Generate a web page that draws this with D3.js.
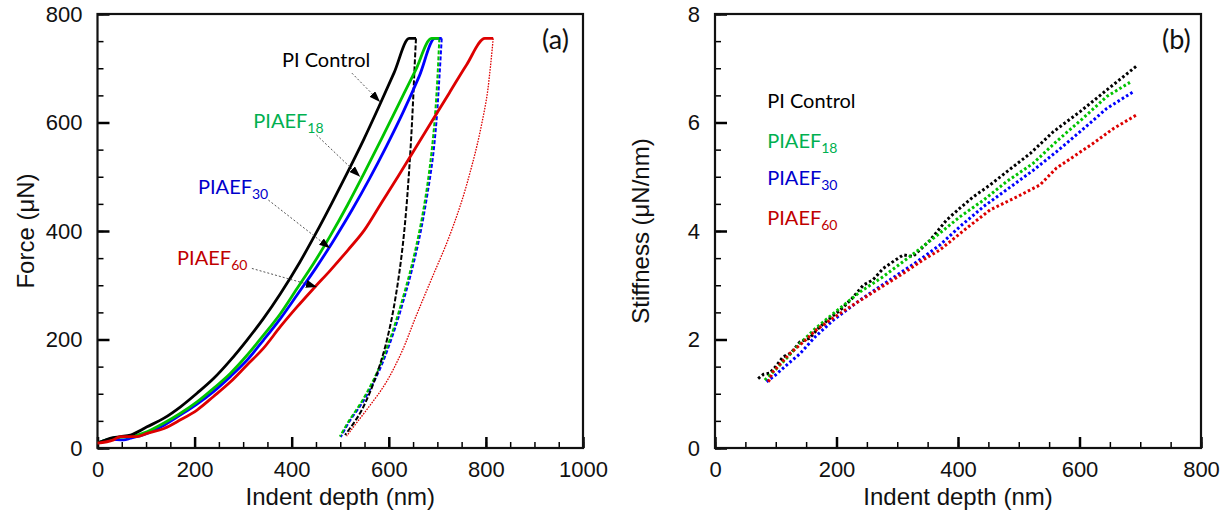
<!DOCTYPE html>
<html>
<head>
<meta charset="utf-8">
<title>Force and stiffness vs indent depth</title>
<style>
  body { margin: 0; background: #fff; }
  .tick text { font-family: "Liberation Sans", Arial, sans-serif; font-size: 22px; fill: #111; }
  .axis-title { font-family: "Liberation Sans", Arial, sans-serif; font-size: 24px; fill: #111; }
  .note { font-family: Lato, "Open Sans", sans-serif; font-size: 20px; }
  .tag { font-family: Lato, "Open Sans", sans-serif; font-size: 27px; fill: #111; }
</style>
</head>
<body>
<svg id="chart" width="1229" height="518"></svg>
<script src="https://cdn.jsdelivr.net/npm/d3@7"></script>
<script>

// ---- panel (a): depth (nm), force (uN) ----
var loadControl = [[0,9],[15,14],[26,18],[47,21],[68,24],[102,39],[137,55],[171,76],[205,101],[239,128],[274,162],[308,199],[342,239],[377,285],[417,343],[450,396],[483,452],[516,510],[549,570],[580,630],[611,692],[642,755],[656,755]];
var unloadControl = [[656,755],[653,700],[650,640],[646,570],[641,500],[635,430],[627,360],[617,295],[604,230],[589,175],[572,128],[554,88],[540,63],[527,45],[510,24]];

var load18 = [[0,9],[26,17],[47,20],[68,21],[102,30],[137,46],[171,64],[205,85],[239,110],[274,138],[308,171],[342,208],[377,248],[411,294],[445,340],[480,392],[515,448],[550,508],[585,570],[620,633],[655,696],[688,755],[704,755]];
var unload18 = [[704,755],[700,680],[694,600],[686,530],[676,465],[663,400],[648,340],[630,280],[604,205],[576,140],[543,84],[515,46],[499,21]];

var load30 = [[0,9],[26,16],[54,15],[68,18],[102,27],[137,42],[171,61],[205,81],[239,104],[274,132],[308,162],[342,199],[377,239],[411,282],[450,332],[488,385],[525,440],[560,496],[595,556],[630,620],[663,686],[695,755],[709,755]];
var unload30 = [[709,755],[704,680],[698,600],[690,530],[679,465],[666,400],[651,340],[633,280],[607,205],[579,140],[546,84],[517,46],[501,20]];

var load60 = [[0,9],[33,15],[47,21],[81,21],[102,27],[137,36],[171,52],[205,70],[239,95],[274,122],[308,153],[342,184],[377,224],[411,260],[445,294],[480,328],[515,364],[550,402],[585,452],[620,502],[655,553],[690,604],[725,655],[760,706],[798,755],[815,755]];
var unload60 = [[815,755],[809,700],[802,648],[792,600],[781,555],[768,510],[753,463],[737,420],[719,377],[692,320],[657,245],[623,170],[589,113],[554,70],[530,42],[513,22]];

// ---- panel (b): depth (nm), stiffness (uN/nm) ----
var stiffControl = [[71,1.28],[80,1.36],[90,1.38],[100,1.5],[112,1.68],[125,1.75],[140,1.96],[155,2.02],[173,2.24],[190,2.4],[206,2.54],[225,2.75],[244,3.0],[260,3.1],[277,3.31],[295,3.45],[310,3.56],[326,3.53],[340,3.68],[354,3.83],[370,4.05],[381,4.2],[403,4.42],[425,4.63],[453,4.85],[480,5.09],[519,5.43],[557,5.83],[601,6.2],[645,6.6],[696,7.06]];
var stiff18 = [[82,1.25],[100,1.45],[120,1.68],[140,1.93],[165,2.2],[195,2.48],[239,2.88],[277,3.16],[321,3.53],[370,3.96],[403,4.26],[442,4.57],[480,4.91],[524,5.25],[562,5.65],[606,6.08],[645,6.48],[683,6.74]];
var stiff30 = [[85,1.22],[100,1.35],[120,1.55],[140,1.74],[165,2.05],[195,2.36],[239,2.73],[288,3.1],[332,3.43],[370,3.74],[403,4.08],[442,4.45],[480,4.76],[524,5.12],[562,5.46],[601,5.83],[645,6.26],[689,6.57]];
var stiff60 = [[88,1.22],[95,1.4],[110,1.58],[123,1.74],[145,1.95],[167,2.18],[195,2.4],[222,2.6],[266,2.91],[310,3.22],[343,3.47],[370,3.65],[414,4.05],[453,4.39],[497,4.63],[535,4.85],[562,5.16],[590,5.37],[623,5.62],[656,5.89],[694,6.14]];

var seriesNames = ["PI Control", "PIAEF", "PIAEF", "PIAEF"];
var seriesSubs = ["", "18", "30", "60"];

var lineColors = ["#000000", "#00c400", "#0000ff", "#dd0000"];
var textColors = ["#000000", "#00b050", "#0000cc", "#c00000"];

var svg = d3.select("#chart");

var xA = d3.scaleLinear().domain([0, 1000]).range([97.5, 583]);
var yA = d3.scaleLinear().domain([0, 800]).range([448, 14]);
var xB = d3.scaleLinear().domain([0, 800]).range([715, 1201]);
var yB = d3.scaleLinear().domain([0, 8]).range([448, 14]);

function drawAxes(x, y, xStep, yStep, xTitle, yTitle, titleX) {
  var bottom = y.range()[0], top = y.range()[1];
  var left = x.range()[0], right = x.range()[1];
  var xd = x.domain(), yd = y.domain();

  // minor ticks
  svg.append("g").attr("transform", "translate(0," + bottom + ")")
    .call(d3.axisBottom(x).tickValues(d3.range(xd[0], xd[1] + 1e-6, xStep / 4)).tickSize(-6).tickFormat(""))
    .call(function(g) { g.select(".domain").remove(); g.selectAll("line").attr("stroke-width", 1.5); });
  svg.append("g").attr("transform", "translate(" + left + ",0)")
    .call(d3.axisLeft(y).tickValues(d3.range(yd[0], yd[1] + 1e-6, yStep / 4)).tickSize(-6).tickFormat(""))
    .call(function(g) { g.select(".domain").remove(); g.selectAll("line").attr("stroke-width", 1.5); });

  // major ticks + labels
  svg.append("g").attr("transform", "translate(0," + bottom + ")")
    .call(d3.axisBottom(x).tickValues(d3.range(xd[0], xd[1] + 1e-6, xStep)).tickSize(-11).tickPadding(13).tickFormat(d3.format("d")))
    .call(function(g) { g.select(".domain").remove(); g.selectAll("line").attr("stroke-width", 2.5); });
  svg.append("g").attr("transform", "translate(" + left + ",0)")
    .call(d3.axisLeft(y).tickValues(d3.range(yd[0], yd[1] + 1e-6, yStep)).tickSize(-12).tickPadding(15).tickFormat(d3.format("d")))
    .call(function(g) { g.select(".domain").remove(); g.selectAll("line").attr("stroke-width", 2.5); });

  svg.append("rect")
    .attr("x", left).attr("y", top)
    .attr("width", right - left).attr("height", bottom - top)
    .attr("fill", "none").attr("stroke", "#111").attr("stroke-width", 2.2);

  svg.append("text").attr("class", "axis-title")
    .attr("x", (left + right) / 2).attr("y", 505)
    .attr("text-anchor", "middle").text(xTitle);

  svg.append("text").attr("class", "axis-title")
    .attr("transform", "translate(" + titleX + "," + ((top + bottom) / 2) + ") rotate(-90)")
    .attr("text-anchor", "middle").text(yTitle);
}

drawAxes(xA, yA, 200, 200, "Indent depth (nm)", "Force (\u03bcN)", 34);
drawAxes(xB, yB, 200, 2, "Indent depth (nm)", "Stiffness (\u03bcN/nm)", 649);

function curve(x, y, c) {
  return d3.line().curve(c || d3.curveLinear)
    .x(function(d) { return x(d[0]); }).y(function(d) { return y(d[1]); });
}

// ---- panel (a) curves ----
var loadLine = curve(xA, yA, d3.curveMonotoneX);
var unloadLine = curve(xA, yA, d3.curveMonotoneY);
var loads = [load30, load18, loadControl, load60];
var unloads = [unload30, unload18, unloadControl, unload60];
var order = [2, 1, 0, 3];
var unloadDash = ["5,2", "4,2", "4,2", "1.6,1.2"];
var unloadWidth = [2, 2, 2, 1.3];

order.forEach(function(s, k) {
  svg.append("path").attr("d", unloadLine(unloads[k]))
    .attr("fill", "none").attr("stroke", lineColors[s])
    .attr("stroke-width", unloadWidth[s]).attr("stroke-dasharray", unloadDash[s]);
});
order.forEach(function(s, k) {
  svg.append("path").attr("d", loadLine(loads[k]))
    .attr("fill", "none").attr("stroke", lineColors[s])
    .attr("stroke-width", 2.8).attr("stroke-linejoin", "round");
});

// arrowheads
svg.append("defs").append("marker")
  .attr("id", "head").attr("markerUnits", "userSpaceOnUse")
  .attr("markerWidth", 11).attr("markerHeight", 8)
  .attr("refX", 11).attr("refY", 4).attr("orient", "auto")
  .append("path").attr("d", "M0,0 L11,4 L0,8 Z").attr("fill", "#000");

// annotations for (a): label anchor + arrow in data units
var notesA = [
  { s: 0, at: [380, 702], from: [524, 691], to: [582, 638] },
  { s: 1, at: [321, 590], from: [451, 577], to: [541, 500] },
  { s: 2, at: [207, 468], from: [352, 457], to: [479, 368] },
  { s: 3, at: [164, 337], from: [318, 331], to: [452, 297] }
];

function label(x, y, s) {
  var t = svg.append("text").attr("class", "note")
    .attr("x", x).attr("y", y).attr("fill", textColors[s]).text(seriesNames[s]);
  if (seriesSubs[s]) {
    t.append("tspan").attr("dy", 5).attr("font-size", "14px").text(seriesSubs[s]);
  }
}

notesA.forEach(function(n) {
  label(xA(n.at[0]), yA(n.at[1]), n.s);
  svg.append("line")
    .attr("x1", xA(n.from[0])).attr("y1", yA(n.from[1]))
    .attr("x2", xA(n.to[0])).attr("y2", yA(n.to[1]))
    .attr("stroke", "#555").attr("stroke-width", 1).attr("stroke-dasharray", "2,2")
    .attr("marker-end", "url(#head)");
});

svg.append("text").attr("class", "tag").attr("x", 542).attr("y", 49).text("(a)");

// ---- panel (b) curves ----
var lb = curve(xB, yB);
[stiffControl, stiff18, stiff30, stiff60].forEach(function(d, s) {
  svg.append("path").attr("d", lb(d))
    .attr("fill", "none").attr("stroke", lineColors[s])
    .attr("stroke-width", 3).attr("stroke-dasharray", "2.6,2.4");
});

var legendB = [[86, 6.27], [86, 5.53], [86, 4.85], [86, 4.11]];
legendB.forEach(function(p, s) { label(xB(p[0]), yB(p[1]), s); });

svg.append("text").attr("class", "tag").attr("x", 1162).attr("y", 49).text("(b)");

</script>
</body>
</html>
